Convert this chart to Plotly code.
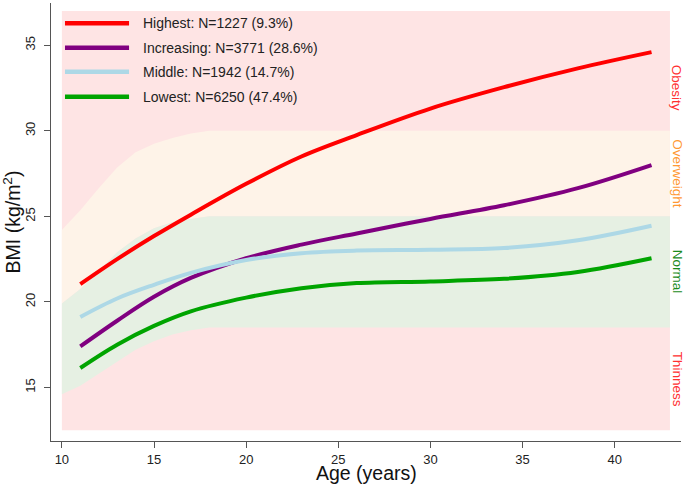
import plotly.graph_objects as go

# ---- data ----
ages = [11, 13, 15, 17, 20, 23, 26, 30, 34, 38, 42]
highest = [21.04, 22.5, 23.85, 25.1, 26.9, 28.5, 29.75, 31.3, 32.55, 33.65, 34.6]
increasing = [17.4, 18.9, 20.3, 21.4, 22.55, 23.35, 24.0, 24.85, 25.65, 26.65, 28.0]
middle = [19.12, 20.2, 21.0, 21.7, 22.45, 22.85, 23.0, 23.05, 23.15, 23.6, 24.45]
lowest = [16.14, 17.5, 18.6, 19.45, 20.25, 20.8, 21.1, 21.2, 21.35, 21.75, 22.55]

series_names = ["Highest: N=1227 (9.3%)", "Increasing: N=3771 (28.6%)",
                "Middle: N=1942 (14.7%)", "Lowest: N=6250 (47.4%)"]
series_values = [highest, increasing, middle, lowest]
series_colors = ["#FF0000", "#800080", "#ADD8E6", "#00A400"]

# BMI cut-off reference curves (age 10..18, then adult values to 43)
ref_ages = [10, 11, 12, 13, 14, 15, 16, 17, 18, 43]
obesity_cut = [24.2, 25.35, 26.65, 27.85, 28.75, 29.25, 29.58, 29.85, 30.0, 30.0]
overweight_cut = [19.9, 20.75, 21.8, 22.9, 23.7, 24.3, 24.65, 24.85, 25.0, 25.0]
thinness_cut = [14.6, 15.1, 15.8, 16.5, 17.2, 17.7, 18.1, 18.35, 18.5, 18.5]
bg_x = [10, 43]
bg_y = [12.5, 37]

zone_labels = ["Obesity", "Overweight", "Normal", "Thinness"]
zone_centers = [32.5, 27.5, 21.75, 15.5]
zone_colors = ["#FF3030", "#FF9933", "#1A8A1A", "#FF3030"]

x_ticks = [10, 15, 20, 25, 30, 35, 40]
y_ticks = [15, 20, 25, 30, 35]

FONT = "Liberation Sans, Arial, sans-serif"
PINK = "rgb(254,228,228)"
ORANGE = "rgb(254,243,232)"
GREEN = "rgb(230,240,227)"

fig = go.Figure()

# overweight band
fig.add_trace(go.Scatter(x=ref_ages, y=overweight_cut, mode="lines", line=dict(width=0, color=ORANGE),
                         showlegend=False, hoverinfo="skip"))
fig.add_trace(go.Scatter(x=ref_ages, y=obesity_cut, mode="lines", line=dict(width=0, color=ORANGE),
                         fill="tonexty", fillcolor=ORANGE, showlegend=False, hoverinfo="skip"))
# normal band
fig.add_trace(go.Scatter(x=ref_ages, y=thinness_cut, mode="lines", line=dict(width=0, color=GREEN),
                         showlegend=False, hoverinfo="skip"))
fig.add_trace(go.Scatter(x=ref_ages, y=overweight_cut, mode="lines", line=dict(width=0, color=GREEN),
                         fill="tonexty", fillcolor=GREEN, showlegend=False, hoverinfo="skip"))

for name, vals, col in zip(series_names, series_values, series_colors):
    fig.add_trace(go.Scatter(x=ages, y=vals, mode="lines", name=name,
                             line=dict(color=col, width=4, shape="spline"),
                             showlegend=False))

# background rectangle (thinness / obesity)
fig.add_shape(type="rect", xref="x", yref="y", x0=bg_x[0], x1=bg_x[1], y0=bg_y[0], y1=bg_y[1],
              fillcolor=PINK, line=dict(width=0), layer="below")

# custom legend
leg_y = [0.9536, 0.8979, 0.8430, 0.7859]
for name, col, yy in zip(series_names, series_colors, leg_y):
    fig.add_shape(type="line", xref="paper", yref="paper", x0=0.0222, x1=0.1239, y0=yy, y1=yy,
                  line=dict(color=col, width=4.5))
    fig.add_annotation(x=0.1429, y=yy, xref="paper", yref="paper", text=name, showarrow=False,
                       xanchor="left", yanchor="middle", font=dict(family=FONT, size=14, color="#222"))

# zone labels
for lab, yc, col in zip(zone_labels, zone_centers, zone_colors):
    fig.add_annotation(x=0.9941, y=yc, xref="paper", yref="y", text=lab, showarrow=False,
                       textangle=90, xanchor="center", yanchor="middle",
                       font=dict(family=FONT, size=13.5, color=col))

# x-axis title
fig.add_annotation(x=0.5, y=-0.074, xref="paper", yref="paper", text="Age (years)", showarrow=False,
                   xanchor="center", yanchor="middle", font=dict(family=FONT, size=19.5, color="#111"))

fig.update_layout(
    width=685, height=488,
    margin=dict(l=51, r=4.3, t=3, b=47.3),
    plot_bgcolor="white", paper_bgcolor="white",
    font=dict(family=FONT, size=13, color="#222"),
    showlegend=False,
)
fig.update_xaxes(range=[9.41, 43.6], tickvals=x_ticks, showgrid=False, zeroline=False,
                 showline=True, linecolor="#555", linewidth=1.2, ticks="outside", ticklen=6,
                 tickcolor="#555", tickfont=dict(size=13, color="#222"), automargin=False)
fig.update_yaxes(range=[11.871, 37.47], tickvals=y_ticks, showgrid=False, zeroline=False,
                 showline=True, linecolor="#555", linewidth=1.2, ticks="outside", ticklen=6,
                 tickcolor="#555", tickangle=-90, tickfont=dict(size=13, color="#222"),
                 ticklabelstandoff=4, automargin=False,
                 title=dict(text="BMI (kg/m<sup>2</sup>)", font=dict(size=19.5, color="#111"), standoff=0))

fig.write_html("out.html", config={"displayModeBar": False},
               post_script="document.body.style.margin='0';document.body.style.overflow='hidden';")
